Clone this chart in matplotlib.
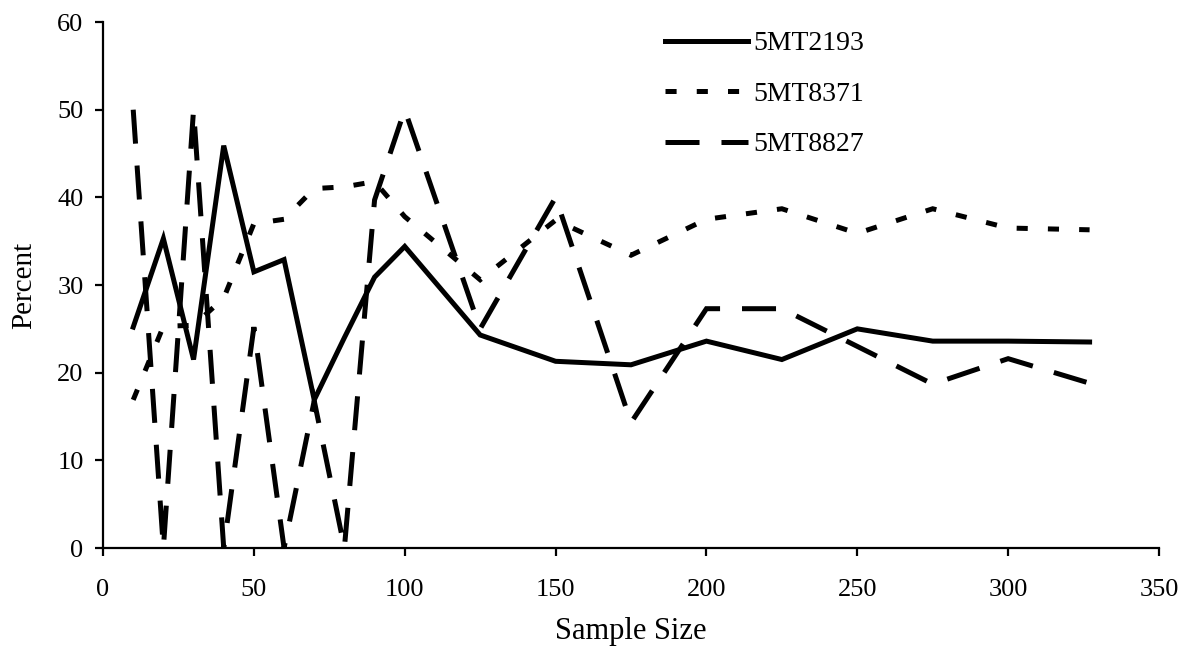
import matplotlib
matplotlib.use("Agg")
import matplotlib.pyplot as plt

plt.rcParams["font.family"] = ["Liberation Serif", "DejaVu Serif"]
plt.rcParams["lines.scale_dashes"] = False

# Sample sizes at which each percentage was computed
sample_size = [10, 20, 30, 40, 50, 60, 70, 80, 90, 100, 125, 150, 175,
               200, 225, 250, 275, 300, 327]

# Percent values per series
pct_5mt2193 = [25.2, 35.3, 21.5, 45.9, 31.5, 32.9, 16.9, 24.0, 30.9, 34.4,
               24.3, 21.3, 20.9, 23.6, 21.5, 25.0, 23.6, 23.6, 23.5]
pct_5mt8371 = [16.9, 25.3, 25.4, 28.5, 37.0, 37.5, 41.0, 41.2, 41.8, 37.8,
               30.6, 37.4, 33.4, 37.5, 38.7, 35.9, 38.7, 36.5, 36.3]
pct_5mt8827 = [50.0, 0.0, 50.0, 0.0, 25.2, 0.0, 16.8, 0.0, 39.7, 50.0,
               25.0, 40.0, 14.3, 27.3, 27.3, 23.0, 18.7, 21.6, 18.8]

series_names = ["5MT2193", "5MT8371", "5MT8827"]

x_ticks = [0, 50, 100, 150, 200, 250, 300, 350]
y_ticks = [0, 10, 20, 30, 40, 50, 60]

fig = plt.figure(figsize=(11.83, 6.5), dpi=100)
ax = fig.add_axes([0.0871, 0.1569, 0.8926, 0.8092])

lw = 3.6
ax.plot(sample_size, pct_5mt2193, color="black", lw=lw,
        solid_joinstyle="miter", label=series_names[0])
ax.plot(sample_size, pct_5mt8371, color="black", lw=lw,
        dashes=(8, 14.5), dash_capstyle="butt", dash_joinstyle="miter",
        label=series_names[1])
ax.plot(sample_size, pct_5mt8827, color="black", lw=lw,
        dashes=(24.5, 15.8), dash_capstyle="butt", dash_joinstyle="miter",
        label=series_names[2])

ax.set_xlim(0, 350)
ax.set_ylim(0, 60)
ax.set_xticks(x_ticks)
ax.set_yticks(y_ticks)
ax.set_xticklabels([str(v) for v in x_ticks])
ax.set_yticklabels([str(v) for v in y_ticks])

for side in ("top", "right"):
    ax.spines[side].set_visible(False)
for side in ("left", "bottom"):
    ax.spines[side].set_linewidth(1.6)
    ax.spines[side].set_clip_on(False)

ax.tick_params(axis="both", direction="out", length=6, width=1.6,
               labelsize=19, colors="black")
ax.tick_params(axis="x", pad=16)
ax.tick_params(axis="y", pad=8)

ax.set_xlabel("Sample Size", fontsize=22, labelpad=12)
ax.set_ylabel("Percent", fontsize=21)
ax.yaxis.set_label_coords(-0.0625, 0.5)

for line in ax.get_lines():
    line.set_clip_on(False)

leg = ax.legend(loc="upper left", bbox_to_anchor=(0.532, 0.983),
                frameon=False, fontsize=20, handlelength=2.99,
                handletextpad=0.18, borderpad=0, borderaxespad=0,
                labelspacing=0.9)

fig.savefig("out.png", dpi=100, facecolor="white")
